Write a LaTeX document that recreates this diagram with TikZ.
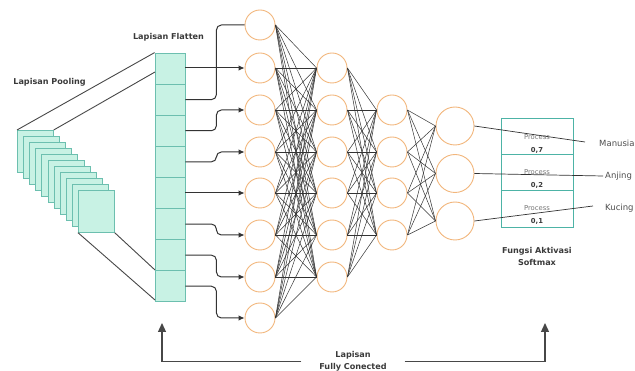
\documentclass[tikz,border=0pt]{standalone}
\usepackage{fontspec}
\setmainfont{DejaVu Sans}
\usetikzlibrary{arrows.meta}
\definecolor{mint}{HTML}{C8F2E4}
\definecolor{tealb}{HTML}{6CBFAF}
\definecolor{tealc}{HTML}{4DB3A6}
\definecolor{orng}{HTML}{F2B67C}
\definecolor{ln}{HTML}{333333}
\definecolor{txt}{HTML}{3A3A3A}
\definecolor{gry}{HTML}{777777}
\begin{document}
\begin{tikzpicture}[x=1pt,y=-1pt,
  neuron/.style={circle,draw=orng,line width=0.9pt,fill=white,minimum size=30pt,inner sep=0pt},
  bigneuron/.style={neuron,minimum size=38pt},
  cell/.style={rectangle,draw=tealb,fill=mint,line width=0.8pt,minimum width=30pt,minimum height=31.1pt,inner sep=0pt},
  pool/.style={rectangle,draw=tealb,fill=mint,line width=0.7pt,minimum width=36pt,minimum height=42pt,inner sep=0pt,anchor=north west},
  smcell/.style={rectangle,draw=tealc,fill=white,line width=1pt,minimum width=72pt,minimum height=36.3pt,inner sep=0pt},
  edge/.style={draw=ln,line width=0.5pt},
  guide/.style={draw=ln!90,line width=0.9pt},
  feed/.style={draw=ln,line width=1pt,rounded corners=5pt},
  feedarr/.style={feed,-{Latex[length=6pt,width=5.5pt]}},
  bigarr/.style={draw=ln!90,line width=1.3pt,-{Triangle[length=9pt,width=8pt]}},
  lbl/.style={font=\fontsize{8.1}{11.5}\selectfont\bfseries,text=txt,align=center,inner sep=0pt},
  proc/.style={font=\fontsize{6.8}{8}\selectfont,text=gry,inner sep=0pt},
  val/.style={font=\fontsize{6.8}{8}\selectfont\bfseries,text=txt,inner sep=0pt},
  outl/.style={font=\fontsize{8.5}{10}\selectfont,text=txt!90,inner sep=0pt,anchor=west}
]
\useasboundingbox (0,0) rectangle (635,371);

% pooling stack
\foreach \i in {0,...,10}
  \node[pool] (p\i) at ({17+6.1*\i},{130+6*\i}) {};

% flatten column
\foreach \i in {1,...,8}
  \node[cell] (f\i) at (170,{53+31.1*(\i-0.5)}) {};

% guide lines pooling -> flatten
\coordinate (fa) at (155,72);
\coordinate (fb) at (155,270);
\coordinate (fc) at (155,300);
\draw[guide] (p0.north west) -- (f1.north west);
\draw[guide] (p0.north east) -- (fa);
\draw[guide] (p10.south west) -- (fc);
\draw[guide] (p10.south east) -- (fb);

\node[lbl] (tpool) at (49.5,82) {Lapisan Pooling};
\node[lbl] (tflat) at (168.5,37) {Lapisan Flatten};

% neurons
\foreach \y [count=\i] in {25,68,110,152,193,235,277,318}
  \node[neuron] (a\i) at (260,\y) {};
\foreach \y [count=\i] in {68,110,152,193,235,277}
  \node[neuron] (b\i) at (332,\y) {};
\foreach \y [count=\i] in {110,152,193,235}
  \node[neuron] (c\i) at (392,\y) {};
\foreach \y [count=\i] in {126,173.5,221}
  \node[bigneuron] (d\i) at (455,\y) {};

% full connections
\foreach \i in {1,...,8}
  \foreach \j in {1,...,6}
    \draw[edge] (a\i.east) -- (b\j.west);
\foreach \i in {1,...,6}
  \foreach \j in {1,...,4}
    \draw[edge] (b\i.east) -- (c\j.west);
\foreach \i in {1,...,4}
  \foreach \j in {1,...,3}
    \draw[edge] (c\i.east) -- (d\j.west);

% flatten -> first layer
\draw[feed] (f2.east) -- ++(31,0) |- (a1.west);
\draw[feedarr] (f1.east |- a2.west) -- (a2.west);
\draw[feedarr] (f5.east |- a5.west) -- (a5.west);
\foreach \i in {3,4,6,7,8}
  \draw[feedarr] (f\i.east) -- ++(31,0) |- (a\i.west);

% softmax box
\node[smcell] (s1) at (537,136.5) {};
\node[smcell] (s2) at (537,172.8) {};
\node[smcell] (s3) at (537,209.1) {};
\node[proc] (s1p) at (537,137) {Process};
\node[val]  (s1v) at (537,150) {0,7};
\node[proc] (s2p) at (537,172) {Process};
\node[val]  (s2v) at (537,185) {0,2};
\node[proc] (s3p) at (537,208) {Process};
\node[val]  (s3v) at (537,221) {0,1};
\node[lbl] (tsoft) at (537,256.5) {Fungsi Aktivasi\\Softmax};

% outputs
\node[outl] (o1) at (599,143) {Manusia};
\node[outl] (o2) at (605,176) {Anjing};
\node[outl] (o3) at (605,208) {Kucing};
\coordinate (e1) at (585,142);
\coordinate (e3) at (593,206);
\draw[edge,line width=0.7pt] (d1.east) -- (e1);
\draw[edge,line width=0.7pt] (d2.east) -- ([xshift=-2pt]o2.west);
\draw[edge,line width=0.7pt] (d3.east) -- (e3);

% bottom bracket
\node[lbl,minimum width=103pt] (fcl) at (353,361.5) {Lapisan\\Fully Conected};
\coordinate (tl) at (162,323);
\coordinate (tr) at (545,323);
\draw[bigarr] (fcl.west) -| (tl);
\draw[bigarr] (fcl.east) -| (tr);
\end{tikzpicture}
\end{document}
